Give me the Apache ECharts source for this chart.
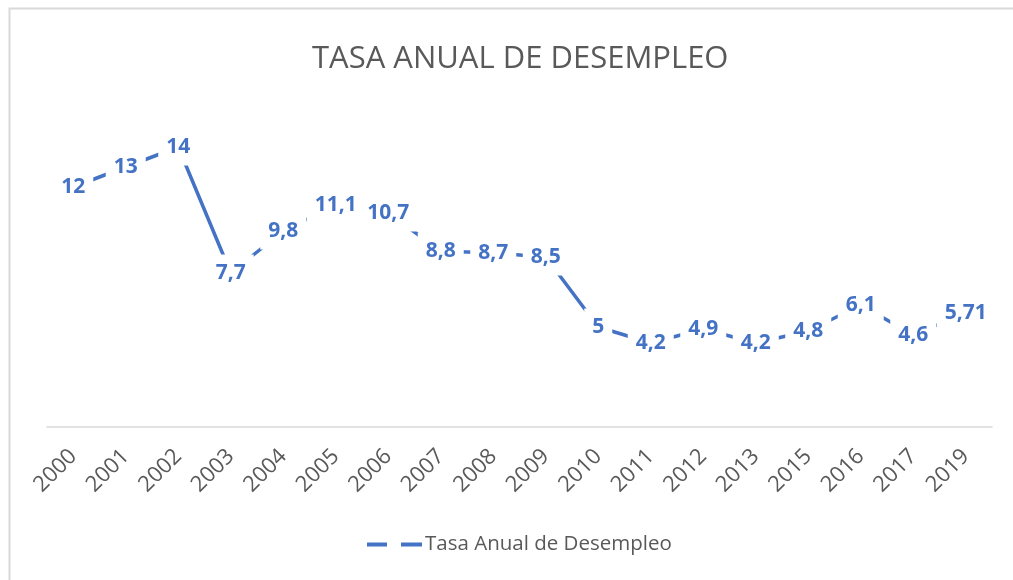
<!DOCTYPE html>
<html>
<head>
<meta charset="utf-8">
<style>
  html, body { margin: 0; padding: 0; background: #fff; }
  #chart { width: 1013px; height: 580px; }
</style>
<script src="https://cdn.jsdelivr.net/npm/echarts@6/dist/echarts.min.js"></script>
</head>
<body>
<div id="chart"></div>
<script>
const years = ['2000', '2001', '2002', '2003', '2004', '2005', '2006', '2007', '2008',
  '2009', '2010', '2011', '2012', '2013', '2015', '2016', '2017', '2019'];
const tasa = [12, 13, 14, 7.7, 9.8, 11.1, 10.7, 8.8, 8.7, 8.5, 5, 4.2, 4.9, 4.2, 4.8, 6.1, 4.6, 5.71];
const seriesName = 'Tasa Anual de Desempleo';

const myChart = echarts.init(document.getElementById('chart'));

const option = {
  animation: false,
  textStyle: { fontFamily: 'Open Sans' },
  // borde del área del gráfico
  graphic: [{
    type: 'rect',
    left: 7,
    top: 6,
    shape: { width: 1030, height: 600 },
    style: { fill: 'none', stroke: '#d9d9d9', lineWidth: 2 },
    silent: true,
  }],
  title: {
    text: 'TASA ANUAL DE DESEMPLEO',
    left: 307,
    top: 39,
    textStyle: { fontSize: 31, fontWeight: 'normal', color: '#595959' },
  },
  legend: {
    bottom: 20,
    left: 362,
    itemWidth: 55,
    itemHeight: 4,
    itemGap: 10,
    textStyle: { fontSize: 20.5, color: '#595959', padding: [0, 0, 0, -2] },
    data: [{
      name: seriesName,
      // icono con dos trazos, como la línea discontinua
      icon: 'path://M0,0h20v4h-20z M34,0h21v4h-21z',
    }],
  },
  grid: {
    left: 47,
    right: 21,
    top: 107,
    bottom: 153,
  },
  xAxis: {
    type: 'category',
    data: years,
    boundaryGap: true,
    axisTick: { show: false },
    axisLine: { lineStyle: { color: '#d9d9d9', width: 1.5 } },
    axisLabel: {
      rotate: 45,
      margin: 26,
      fontSize: 22,
      color: '#595959',
      interval: 0,
    },
  },
  yAxis: {
    type: 'value',
    min: 0,
    max: 16,
    show: false,
    splitLine: { show: false },
  },
  series: [{
    name: seriesName,
    type: 'line',
    data: tasa,
    symbol: 'circle',
    symbolSize: 0,
    color: '#4472c4',
    lineStyle: { width: 3.5, color: '#4472c4' },
    label: {
      show: true,
      position: 'inside',
      fontSize: 21,
      fontWeight: 'bold',
      color: '#4472c4',
      backgroundColor: '#fff',
      padding: [8, 8, 8, 8],
      formatter: (p) => String(p.value).replace('.', ','),
    },
  }],
};

myChart.setOption(option);

window.addEventListener('resize', () => {
  myChart.resize();
});
</script>
</body>
</html>
